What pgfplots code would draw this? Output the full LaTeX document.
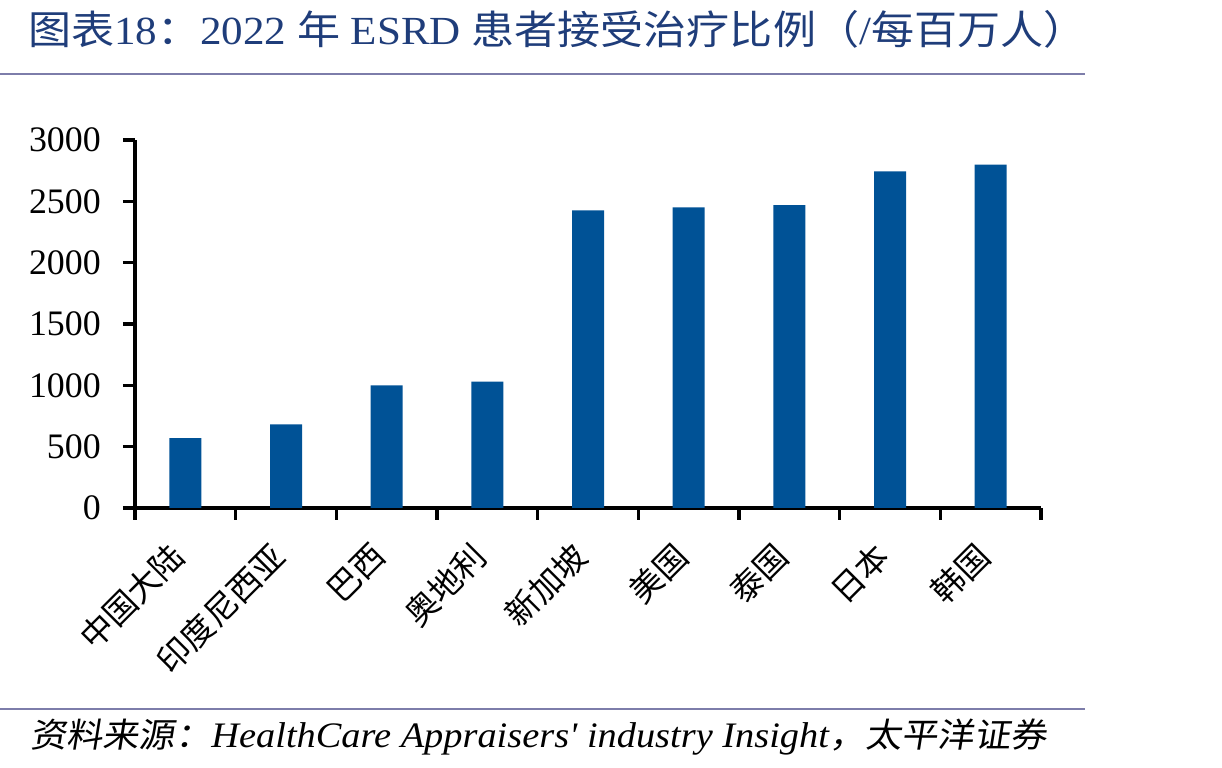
\documentclass[border=0pt]{standalone}
\usepackage{pgfplots}
\pgfplotsset{compat=1.18}
\usepackage{fontspec}
\setmainfont{Liberation Serif}
\newfontfamily\cjk{Noto Sans CJK SC}
\newfontfamily\cjkit{Noto Sans CJK SC}[FakeSlant=0.15]
\definecolor{barblue}{RGB}{0,82,150}
\definecolor{titleblue}{RGB}{31,61,122}
\definecolor{rulecol}{RGB}{125,125,170}

\pgfplotstableread{
x  value
1  570
2  682
3  1000
4  1030
5  2427
6  2450
7  2470
8  2745
9  2800
}\esrddata

\begin{document}
\begin{tikzpicture}[x=1bp,y=1bp]
\useasboundingbox (0,0) rectangle (1222,768);
% title and rules
\node[anchor=base west, text=titleblue, inner sep=0,
      font=\fontsize{40}{44}\selectfont] at (28,723)
  {\scalebox{1.08}[1]{{\cjk 图表}18{\cjk ：}2022 {\cjk 年} ESRD {\cjk 患者接受治疗比例（}/{\cjk 每百万人）}}};
\draw[rulecol, line width=2.5bp] (0,694) -- (1085,694);
\draw[rulecol, line width=2.5bp] (0,59) -- (1085,59);
% source line
\node[anchor=base west, inner sep=0, font=\fontsize{36}{38}\selectfont\itshape] at (30,20)
  {\scalebox{1.07}[1]{{\fontsize{34}{36}\selectfont\cjkit 资料来源：}HealthCare Appraisers\textquotesingle{} industry Insight{\fontsize{34}{36}\selectfont\cjkit ，太平洋证券}}};

\begin{axis}[
  at={(135bp,260bp)}, anchor=south west,
  scale only axis, width=906bp, height=368bp,
  xmin=0.5, xmax=9.5, ymin=0, ymax=3000,
  axis lines*=left,
  axis line style={line width=3.5bp, black},
  tick style={line width=3.5bp, black},
  tick align=outside,
  major tick length=12bp,
  ytick={0,500,...,3000},
  xtick={0.5,1.5,...,9.5},
  xticklabels={,,,,,,,,,},
  extra x ticks={1,...,9},
  extra x tick labels={中国大陆,印度尼西亚,巴西,奥地利,新加坡,美国,泰国,日本,韩国},
  extra x tick style={tick style={draw=none}},
  x tick label style={font=\fontsize{33}{35}\selectfont\cjk, anchor=east,
    inner sep=0pt, xshift=-7bp, yshift=-30bp, rotate=45},
  y tick label style={font=\fontsize{36}{38}\selectfont, inner sep=0pt, xshift=-22bp},
  /pgf/number format/assume math mode=true,
  yticklabel={\pgfmathprintnumber[fixed,1000 sep={}]{\tick}},
  clip=false,
]
\addplot[ybar, bar width=32bp, bar shift=0pt, fill=barblue, draw=none]
  table[x=x, y=value] {\esrddata};
\end{axis}
\end{tikzpicture}
\end{document}
